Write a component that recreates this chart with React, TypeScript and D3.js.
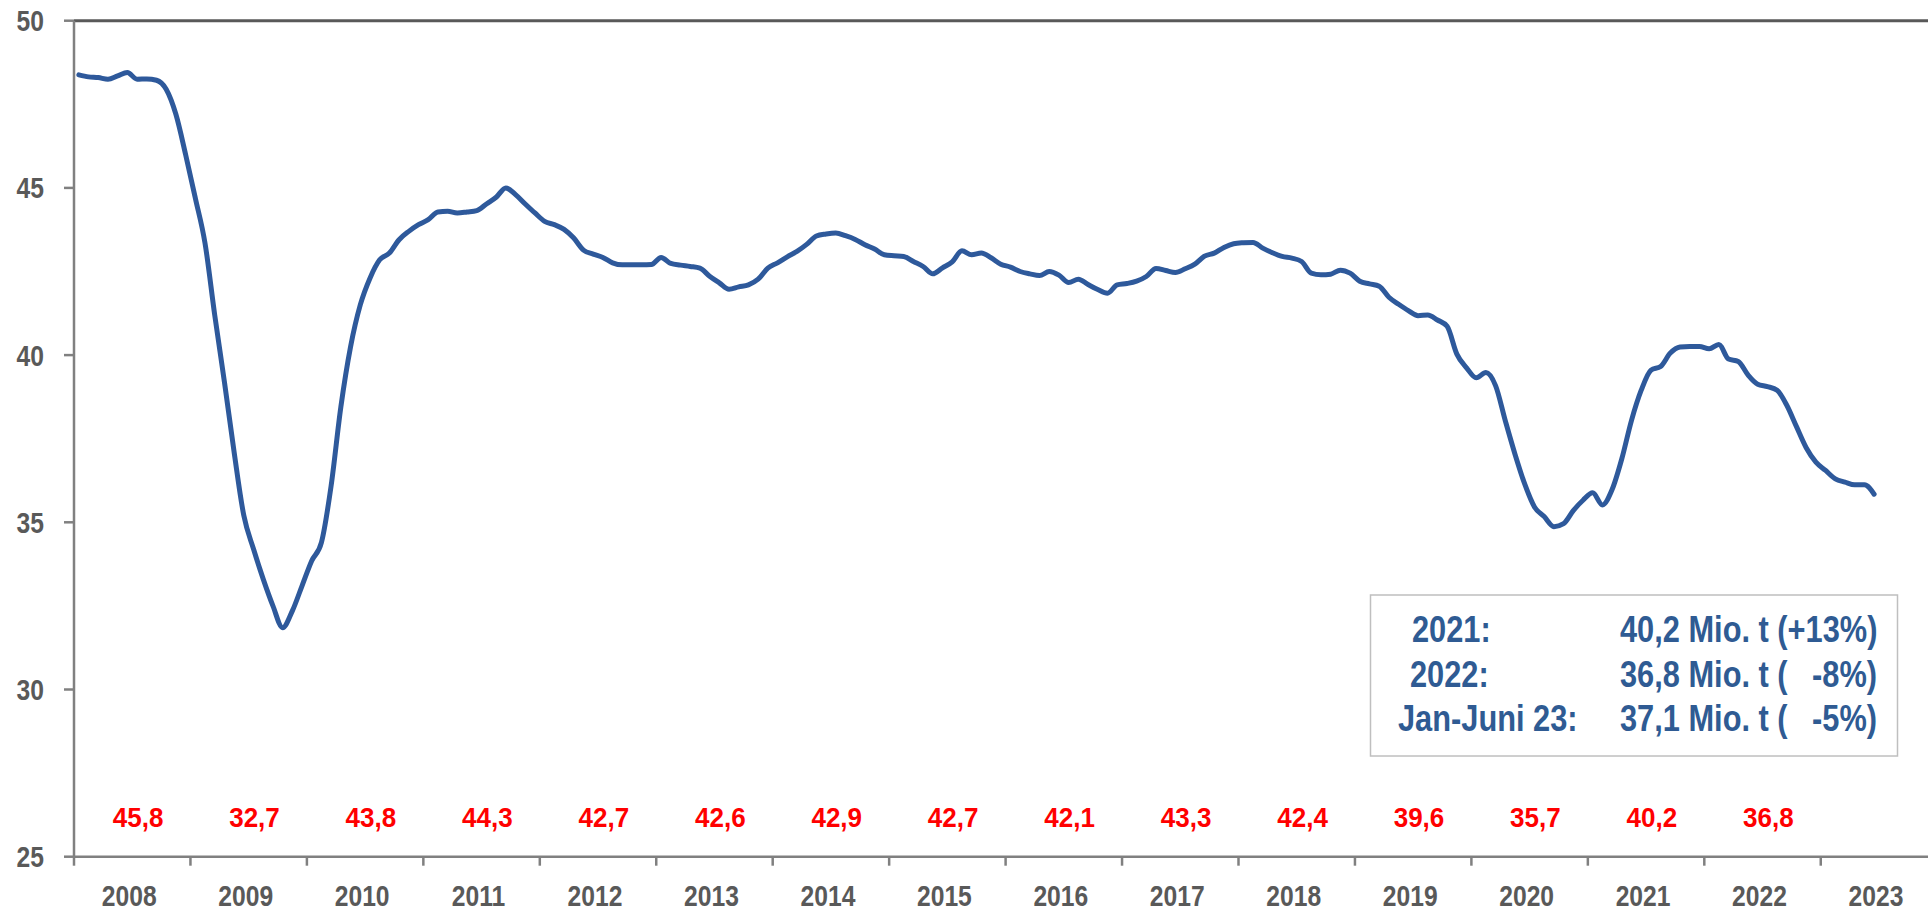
import React from "react";
import * as d3 from "d3";

// ---- Data ----
const yearLabels = ["2008","2009","2010","2011","2012","2013","2014","2015","2016","2017","2018","2019","2020","2021","2022","2023"];
const annualLabels = ["45,8","32,7","43,8","44,3","42,7","42,6","42,9","42,7","42,1","43,3","42,4","39,6","35,7","40,2","36,8"];
const yTicks = [25, 30, 35, 40, 45, 50];
const startYear = 2008;

// monthly values (Mio. t), Jan 2008 .. Jun 2023
const monthlyValues = [
  // 2008
  48.38, 48.32, 48.30, 48.25, 48.35, 48.45, 48.25, 48.26, 48.22, 47.95, 47.2, 46.0,
  // 2009
  44.7, 43.35, 41.2, 39.2, 37.1, 35.2, 34.2, 33.3, 32.5, 31.85, 32.35, 33.1,
  // 2010
  33.85, 34.4, 36.1, 38.45, 40.25, 41.5, 42.3, 42.85, 43.05, 43.45, 43.7, 43.9,
  // 2011
  44.05, 44.28, 44.3, 44.25, 44.28, 44.32, 44.52, 44.72, 45.0, 44.8, 44.52, 44.25,
  // 2012
  44.0, 43.9, 43.76, 43.5, 43.14, 43.02, 42.92, 42.76, 42.7, 42.7, 42.7, 42.71,
  // 2013
  42.92, 42.74, 42.69, 42.65, 42.6, 42.36, 42.16, 41.97, 42.04, 42.1, 42.27, 42.6,
  // 2014
  42.76, 42.94, 43.1, 43.31, 43.56, 43.62, 43.65, 43.57, 43.46, 43.3, 43.17, 43.0,
  // 2015
  42.97, 42.95, 42.8, 42.65, 42.43, 42.61, 42.79, 43.12, 43.0, 43.05, 42.91, 42.72,
  // 2016
  42.63, 42.5, 42.43, 42.38, 42.5, 42.39, 42.17, 42.27, 42.11, 41.96, 41.85, 42.1,
  // 2017
  42.14, 42.21, 42.35, 42.59, 42.53, 42.47, 42.58, 42.72, 42.96, 43.05, 43.22, 43.33,
  // 2018
  43.36, 43.37, 43.2, 43.06, 42.95, 42.9, 42.8, 42.45, 42.4, 42.42, 42.54, 42.45,
  // 2019
  42.21, 42.13, 42.06, 41.73, 41.52, 41.33, 41.18, 41.2, 41.05, 40.86, 40.03, 39.62,
  // 2020
  39.32, 39.48, 39.08, 38.03, 37.03, 36.14, 35.46, 35.17, 34.87, 34.96, 35.35, 35.66,
  // 2021
  35.88, 35.52, 35.98, 36.9, 38.05, 38.95, 39.55, 39.66, 40.06, 40.24, 40.26, 40.26,
  // 2022
  40.19, 40.32, 39.88, 39.81, 39.41, 39.13, 39.06, 38.95, 38.5, 37.86, 37.23, 36.8,
  // 2023
  36.55, 36.3, 36.2, 36.12, 36.12, 35.84
];

const boxRowsLeft = ["2021:", "2022:", "Jan-Juni 23:"];
const boxRowsMid = ["40,2 Mio. t (+13%)", "36,8 Mio. t (", "37,1 Mio. t ("];
const boxRowsRight = ["", "-8%)", "-5%)"];

// ---- Layout ----
const W = 1928;
const H = 912;
const X0 = 74;
const YEAR_W = 116.45;
const Y_TOP = 20.7;
const Y_BOT = 856.7;

const FONT = "'Liberation Sans', Arial, sans-serif";
const AXIS_COLOR = "#808080";
const TEXT_GRAY = "#595959";
const BLUE = "#2E599B";
const BOX_BLUE = "#2F5B93";

type NTProps = {
  x: number;
  y: number;
  size: number;
  fill: string;
  sx: number;
  anchor?: "start" | "middle" | "end";
  dy?: string;
  children: React.ReactNode;
};

// condensed bold text (Arial Narrow look) via horizontal scaling
function NText({ x, y, size, fill, sx, anchor = "start", dy, children }: NTProps) {
  return (
    <text
      transform={`translate(${x},${y}) scale(${sx},1)`}
      textAnchor={anchor}
      fontSize={size}
      fontWeight="bold"
      fill={fill}
      fontFamily={FONT}
      dy={dy}
    >
      {children}
    </text>
  );
}

export default function App() {
  const x = d3.scaleLinear().domain([startYear, startYear + 16]).range([X0, X0 + YEAR_W * 16]);
  const y = d3.scaleLinear().domain([25, 50]).range([Y_BOT, Y_TOP]);

  const pts = monthlyValues.map((v, i) => ({ t: startYear + (i + 0.5) / 12, v }));
  const line = d3
    .line<{ t: number; v: number }>()
    .x((d) => x(d.t))
    .y((d) => y(d.v))
    .curve(d3.curveMonotoneX);

  const boxX = 1370.5;
  const boxY = 595;
  const boxW = 527;
  const boxH = 161;
  const rowBase = [641.7, 686.7, 731];
  const leftX = [1412, 1410, 1398];

  return (
    <svg
      width={W}
      height={H}
      style={{ position: "absolute", left: 0, top: 0, background: "#fff" }}
      fontFamily={FONT}
    >
      <rect x={0} y={0} width={W} height={H} fill="#fff" />

      {/* top border */}
      <line x1={X0} x2={W} y1={Y_TOP} y2={Y_TOP} stroke={TEXT_GRAY} strokeWidth={3} />

      {/* y axis */}
      <line x1={X0} x2={X0} y1={Y_TOP} y2={Y_BOT} stroke={AXIS_COLOR} strokeWidth={2.5} />
      {yTicks.map((t) => (
        <g key={t}>
          <line x1={X0 - 10} x2={X0} y1={y(t)} y2={y(t)} stroke={AXIS_COLOR} strokeWidth={2.5} />
          <NText x={44} y={y(t)} dy="0.36em" anchor="end" size={29} sx={0.85} fill={TEXT_GRAY}>
            {t}
          </NText>
        </g>
      ))}

      {/* x axis */}
      <line x1={X0} x2={W} y1={Y_BOT} y2={Y_BOT} stroke={AXIS_COLOR} strokeWidth={2.5} />
      {yearLabels.map((lab, i) => (
        <g key={lab}>
          <line
            x1={x(startYear + i)}
            x2={x(startYear + i)}
            y1={Y_BOT}
            y2={Y_BOT + 9}
            stroke={AXIS_COLOR}
            strokeWidth={2.5}
          />
          <NText x={x(startYear + i + 0.5) - 3} y={906} anchor="middle" size={29} sx={0.85} fill={TEXT_GRAY}>
            {lab}
          </NText>
        </g>
      ))}

      {/* annual values */}
      {annualLabels.map((lab, i) => (
        <NText key={i} x={x(startYear + i + 0.55)} y={827} anchor="middle" size={28} sx={0.93} fill="#FF0000">
          {lab}
        </NText>
      ))}

      {/* series */}
      <path
        d={line(pts) || ""}
        fill="none"
        stroke={BLUE}
        strokeWidth={5}
        strokeLinejoin="round"
        strokeLinecap="round"
      />

      {/* info box */}
      <rect x={boxX} y={boxY} width={boxW} height={boxH} fill="#fff" stroke="#BFBFBF" strokeWidth={1.5} />
      {boxRowsLeft.map((lab, i) => (
        <g key={lab}>
          <NText x={leftX[i]} y={rowBase[i]} size={36} sx={0.855} fill={BOX_BLUE}>{lab}</NText>
          <NText x={1620} y={rowBase[i]} size={36} sx={0.855} fill={BOX_BLUE}>{boxRowsMid[i]}</NText>
          {boxRowsRight[i] ? (
            <NText x={1877} y={rowBase[i]} size={36} sx={0.855} fill={BOX_BLUE} anchor="end">{boxRowsRight[i]}</NText>
          ) : null}
        </g>
      ))}
    </svg>
  );
}
